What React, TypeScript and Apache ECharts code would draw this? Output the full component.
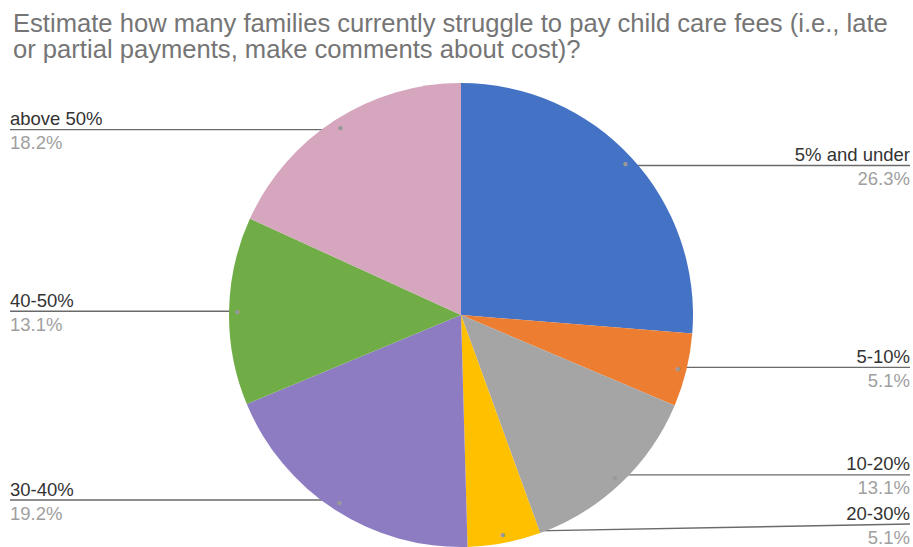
import React, { useEffect, useRef } from "react";
import * as echarts from "echarts";

const categories = ["5% and under", "5-10%", "10-20%", "20-30%", "30-40%", "40-50%", "above 50%"];
const values = [26.3, 5.1, 13.1, 5.1, 19.2, 13.1, 18.2];
const colors = ["#4472C4", "#ED7D31", "#A5A5A5", "#FFC000", "#8E7CC3", "#70AD47", "#D5A6BD"];
const titleText =
  "Estimate how many families currently struggle to pay child care fees (i.e., late\nor partial payments, make comments about cost)?";

const W = 913;
const H = 547;
const CX = 461;
const CY = 315;
const R = 232;
const DOT_R = 0.95 * R;
const FONT = "'Liberation Sans', Arial, sans-serif";

function midAngle(i: number): number {
  const total = values.reduce((a, b) => a + b, 0);
  let cum = 0;
  for (let k = 0; k < i; k++) cum += values[k];
  return ((cum + values[i] / 2) / total) * 2 * Math.PI;
}

export default function App() {
  const ref = useRef<HTMLDivElement>(null);
  useEffect(() => {
    if (!ref.current) return;
    const chart = echarts.init(ref.current, undefined, { renderer: "svg" });
    const data = categories.map((name, i) => ({
      name,
      value: values[i],
      itemStyle: { color: colors[i] },
    }));
    chart.setOption({
      animation: false,
      backgroundColor: "#ffffff",
      title: {
        text: titleText,
        left: 8,
        top: 5,
        textStyle: {
          fontFamily: FONT,
          fontSize: 25.6,
          fontWeight: "normal",
          color: "#757575",
          lineHeight: 26,
        },
      },
      series: [
        {
          type: "pie",
          center: [CX, CY],
          radius: [0, R],
          startAngle: 90,
          clockwise: true,
          avoidLabelOverlap: false,
          data,
          label: {
            show: true,
            position: "outside",
            formatter: "{n|{b}}\n{p|{c}%}",
            rich: {
              n: { fontFamily: FONT, fontSize: 18.5, color: "#333333", lineHeight: 24 },
              p: { fontFamily: FONT, fontSize: 18.5, color: "#a0a0a0", lineHeight: 24 },
            },
          },
          labelLine: {
            show: true,
            lineStyle: { color: "#6a6a6a", width: 1.4 },
          },
          labelLayout: (params: any) => {
            const i = params.dataIndex;
            const a = midAngle(i);
            const dx = CX + DOT_R * Math.sin(a);
            const dy = CY - DOT_R * Math.cos(a);
            const right = Math.sin(a) >= 0;
            const edge = right ? 910 : 10;
            const y = Math.min(dy, H - 23);
            return {
              x: edge,
              y: y + 1,
              align: right ? "right" : "left",
              verticalAlign: "middle",
              labelLinePoints: [
                [dx, dy],
                [edge, y],
              ],
            };
          },
        },
        {
          type: "pie",
          center: [CX, CY],
          radius: [DOT_R - 4, DOT_R + 4],
          startAngle: 90,
          clockwise: true,
          silent: true,
          data: categories.map((name, i) => ({ name, value: values[i] })),
          itemStyle: { color: "rgba(0,0,0,0)" },
          label: {
            show: true,
            position: "inside",
            formatter: "●",
            fontSize: 10,
            color: "#999999",
          },
          labelLine: { show: false },
        },
      ],
    });
    return () => chart.dispose();
  }, []);
  return (
    <div
      ref={ref}
      style={{ position: "fixed", left: 0, top: 0, width: W, height: H }}
    />
  );
}
